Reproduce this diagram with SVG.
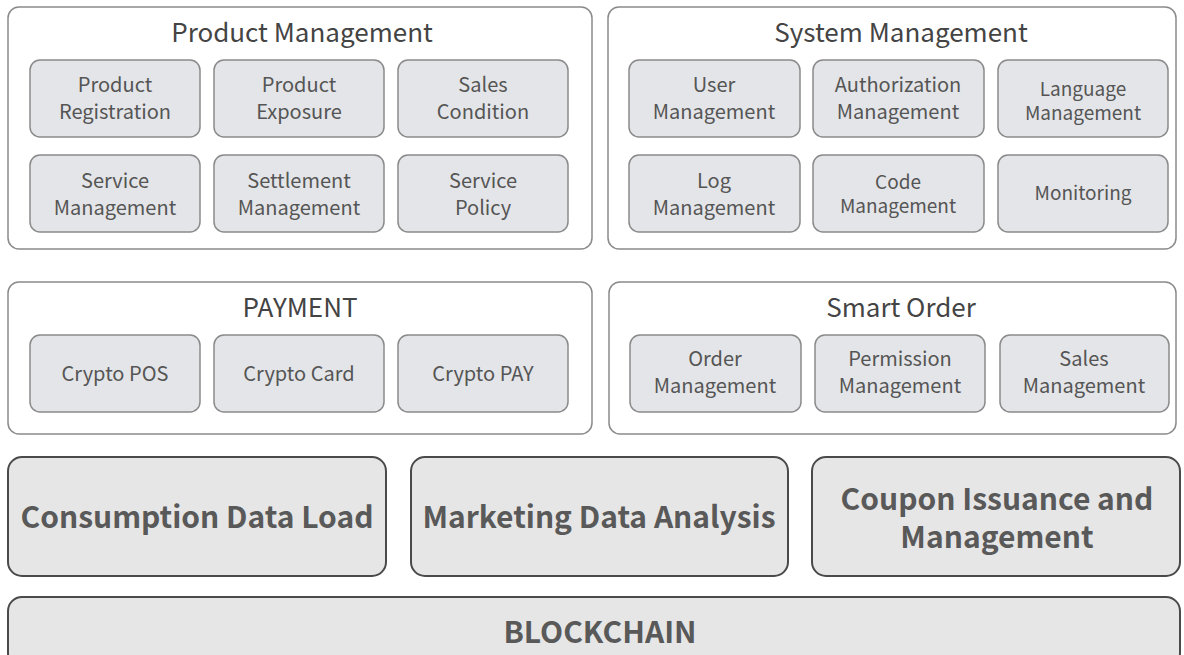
<svg xmlns="http://www.w3.org/2000/svg" width="1184" height="655" viewBox="0 0 1184 655">
<style>
.grp{fill:#ffffff;stroke:#8a8a8a;stroke-width:1.5}
.box{fill:#e4e5e8;stroke:#8a8a8a;stroke-width:1.5}
.big{fill:#e6e6e6;stroke:#4a4a4a;stroke-width:2}
text{font-family:"Noto Sans CJK KR","Noto Sans",sans-serif;text-anchor:middle;fill:#555555}
.t{font-size:26px;fill:#444444}
.s{font-size:20px}
.xs{font-size:19px}
.b{font-size:30px;font-weight:bold;fill:#595959}
.bc{font-size:30px;font-weight:bold;fill:#595959}
</style>
<rect width="1184" height="655" fill="#ffffff"/>
<g id="product-management">
<rect class="grp" x="8" y="7" width="584" height="242" rx="11"/>
<text class="t" x="302" y="42">Product Management</text>
</g>
<g id="product-registration"><rect class="box" x="30" y="60" width="170" height="77" rx="10"/><text class="s" x="115" y="92">Product</text><text class="s" x="115" y="119">Registration</text></g>
<g id="product-exposure"><rect class="box" x="214" y="60" width="170" height="77" rx="10"/><text class="s" x="299" y="92">Product</text><text class="s" x="299" y="119">Exposure</text></g>
<g id="sales-condition"><rect class="box" x="398" y="60" width="170" height="77" rx="10"/><text class="s" x="483" y="92">Sales</text><text class="s" x="483" y="119">Condition</text></g>
<g id="service-management"><rect class="box" x="30" y="155" width="170" height="77" rx="10"/><text class="s" x="115" y="188">Service</text><text class="s" x="115" y="215">Management</text></g>
<g id="settlement-management"><rect class="box" x="214" y="155" width="170" height="77" rx="10"/><text class="s" x="299" y="188">Settlement</text><text class="s" x="299" y="215">Management</text></g>
<g id="service-policy"><rect class="box" x="398" y="155" width="170" height="77" rx="10"/><text class="s" x="483" y="188">Service</text><text class="s" x="483" y="215">Policy</text></g>

<g id="system-management">
<rect class="grp" x="608" y="7" width="568" height="242" rx="11"/>
<text class="t" x="901" y="42">System Management</text>
</g>
<g id="user-management"><rect class="box" x="629" y="60" width="171" height="77" rx="10"/><text class="s" x="714" y="92">User</text><text class="s" x="714" y="119">Management</text></g>
<g id="authorization-management"><rect class="box" x="813" y="60" width="171" height="77" rx="10"/><text class="s" x="898" y="92">Authorization</text><text class="s" x="898" y="119">Management</text></g>
<g id="language-management"><rect class="box" x="998" y="60" width="170" height="77" rx="10"/><text class="xs" x="1083" y="96">Language</text><text class="xs" x="1083" y="120">Management</text></g>
<g id="log-management"><rect class="box" x="629" y="155" width="171" height="77" rx="10"/><text class="s" x="714" y="188">Log</text><text class="s" x="714" y="215">Management</text></g>
<g id="code-management"><rect class="box" x="813" y="155" width="171" height="77" rx="10"/><text class="xs" x="898" y="189">Code</text><text class="xs" x="898" y="213">Management</text></g>
<g id="monitoring"><rect class="box" x="998" y="155" width="170" height="77" rx="10"/><text class="xs" x="1083" y="200">Monitoring</text></g>

<g id="payment">
<rect class="grp" x="8" y="282" width="584" height="152" rx="11"/>
<text class="t" x="300" y="317">PAYMENT</text>
</g>
<g id="crypto-pos"><rect class="box" x="30" y="335" width="170" height="77" rx="10"/><text class="s" x="115" y="381">Crypto POS</text></g>
<g id="crypto-card"><rect class="box" x="214" y="335" width="170" height="77" rx="10"/><text class="s" x="299" y="381">Crypto Card</text></g>
<g id="crypto-pay"><rect class="box" x="398" y="335" width="170" height="77" rx="10"/><text class="s" x="483" y="381">Crypto PAY</text></g>

<g id="smart-order">
<rect class="grp" x="609" y="282" width="567" height="152" rx="11"/>
<text class="t" x="901" y="317">Smart Order</text>
</g>
<g id="order-management"><rect class="box" x="630" y="335" width="171" height="77" rx="10"/><text class="s" x="715" y="366">Order</text><text class="s" x="715" y="393">Management</text></g>
<g id="permission-management"><rect class="box" x="815" y="335" width="170" height="77" rx="10"/><text class="s" x="900" y="366">Permission</text><text class="s" x="900" y="393">Management</text></g>
<g id="sales-management"><rect class="box" x="1000" y="335" width="169" height="77" rx="10"/><text class="s" x="1084" y="366">Sales</text><text class="s" x="1084" y="393">Management</text></g>

<g id="consumption-data-load"><rect class="big" x="8" y="457" width="378" height="119" rx="14"/><text class="b" x="197" y="528">Consumption Data Load</text></g>
<g id="marketing-data-analysis"><rect class="big" x="411" y="457" width="377" height="119" rx="14"/><text class="b" x="599" y="528">Marketing Data Analysis</text></g>
<g id="coupon-issuance"><rect class="big" x="812" y="457" width="368" height="119" rx="14"/><text class="b" x="997" y="510">Coupon Issuance and</text><text class="b" x="997" y="548">Management</text></g>
<g id="blockchain"><rect class="big" x="8" y="597" width="1172" height="70" rx="14"/><text class="bc" x="600" y="643">BLOCKCHAIN</text></g>
<g id="connectors"></g>
</svg>
